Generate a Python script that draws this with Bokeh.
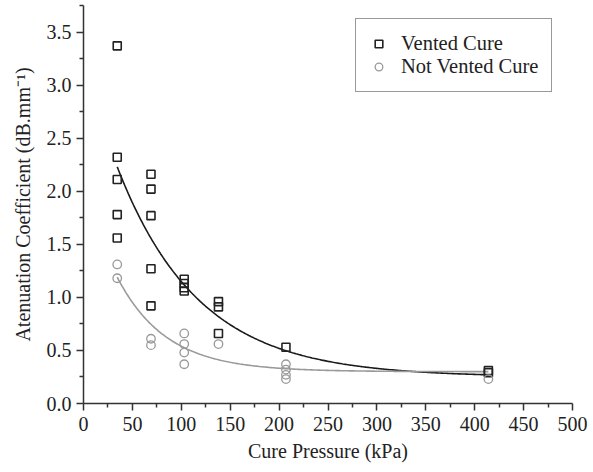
import numpy as np
from bokeh.plotting import figure
from bokeh.models import Range1d, FixedTicker, NumeralTickFormatter, Legend, LegendItem
from bokeh.embed import file_html
from bokeh.resources import INLINE

# ---- data ----
vented_x = [34.5, 34.5, 34.5, 34.5, 34.5,
            69, 69, 69, 69, 69,
            103, 103, 103, 103,
            138, 138, 138,
            207,
            414, 414]
vented_y = [3.37, 2.32, 2.11, 1.78, 1.56,
            2.16, 2.02, 1.77, 1.27, 0.92,
            1.17, 1.13, 1.09, 1.06,
            0.96, 0.91, 0.66,
            0.53,
            0.31, 0.29]

notvented_x = [34.5, 34.5,
               69, 69,
               103, 103, 103, 103,
               138,
               207, 207, 207, 207,
               414]
notvented_y = [1.31, 1.18,
               0.61, 0.55,
               0.66, 0.56, 0.48, 0.37,
               0.56,
               0.37, 0.32, 0.27, 0.23,
               0.23]

# exponential-decay trend lines y = a + b*exp(-x/t) (parameters)
vented_fit = dict(a=0.25, b=3.0, t=83.0)
notvented_fit = dict(a=0.30, b=1.775, t=50.0)
fit_x_range = [34.5, 414]

x_ticks = [0, 50, 100, 150, 200, 250, 300, 350, 400, 450, 500]
x_minor = [25, 75, 125, 175, 225, 275, 325, 375, 425, 475]
y_ticks = [0.0, 0.5, 1.0, 1.5, 2.0, 2.5, 3.0, 3.5]
y_minor = [0.25, 0.75, 1.25, 1.75, 2.25, 2.75, 3.25, 3.75]

FONT = "Liberation Serif"

p = figure(width=593, height=472, output_backend="svg", toolbar_location=None,
           x_range=Range1d(0, 500), y_range=Range1d(0, 3.75),
           min_border_left=83, min_border_right=21, min_border_top=5, min_border_bottom=69)
p.outline_line_color = None
p.grid.visible = False
p.background_fill_color = "white"
p.border_fill_color = "white"

xs = np.linspace(fit_x_range[0], fit_x_range[1], 300)
vf = vented_fit["a"] + vented_fit["b"] * np.exp(-xs / vented_fit["t"])
nf = notvented_fit["a"] + notvented_fit["b"] * np.exp(-xs / notvented_fit["t"])
p.line(xs, vf, line_color="#1a1a1a", line_width=1.6)
p.line(xs, nf, line_color="#9a9a9a", line_width=1.6)

r_v = p.scatter(vented_x, vented_y, marker="square", size=8, fill_color=None,
                line_color="#222222", line_width=1.6)
r_n = p.scatter(notvented_x, notvented_y, marker="circle", size=8.5, fill_color=None,
                line_color="#999999", line_width=1.3)

for ax in (p.xaxis[0], p.yaxis[0]):
    ax.axis_line_color = "#333333"
    ax.axis_line_width = 1.5
    ax.major_tick_line_color = "#333333"
    ax.minor_tick_line_color = "#333333"
    ax.major_tick_line_width = 1.5
    ax.minor_tick_line_width = 1.5
    ax.major_tick_in = 0
    ax.major_tick_out = 7
    ax.minor_tick_in = 0
    ax.minor_tick_out = 4
    ax.major_label_text_font = FONT
    ax.major_label_text_font_size = "20px"
    ax.major_label_text_color = "#222222"
    ax.axis_label_text_font = FONT
    ax.axis_label_text_font_size = "20px"
    ax.axis_label_text_font_style = "normal"
    ax.axis_label_text_color = "#222222"

p.xaxis[0].ticker = FixedTicker(ticks=x_ticks, minor_ticks=x_minor)
p.yaxis[0].ticker = FixedTicker(ticks=y_ticks, minor_ticks=y_minor)
p.yaxis[0].formatter = NumeralTickFormatter(format="0.0")
p.xaxis[0].major_label_standoff = 6
p.yaxis[0].major_label_standoff = 5
p.xaxis[0].axis_label = "Cure Pressure (kPa)"
p.yaxis[0].axis_label = "Atenuation Coefficient (dB.mm\u207b\u00b9)"
p.xaxis[0].axis_label_standoff = 6
p.yaxis[0].axis_label_standoff = 10

legend = Legend(items=[LegendItem(label="Vented Cure", renderers=[r_v]),
                       LegendItem(label="Not Vented Cure", renderers=[r_n])],
                location=(272, 311))
legend.label_text_font = FONT
legend.label_text_font_size = "20.5px"
legend.label_text_color = "#222222"
legend.border_line_color = "#333333"
legend.border_line_width = 1.2
legend.background_fill_alpha = 1.0
legend.padding = 13
legend.spacing = 0
legend.margin = 0
legend.glyph_width = 19
legend.glyph_height = 23
legend.label_height = 23
legend.label_standoff = 13
p.add_layout(legend)

open("out.html", "w").write(file_html(p, INLINE))
